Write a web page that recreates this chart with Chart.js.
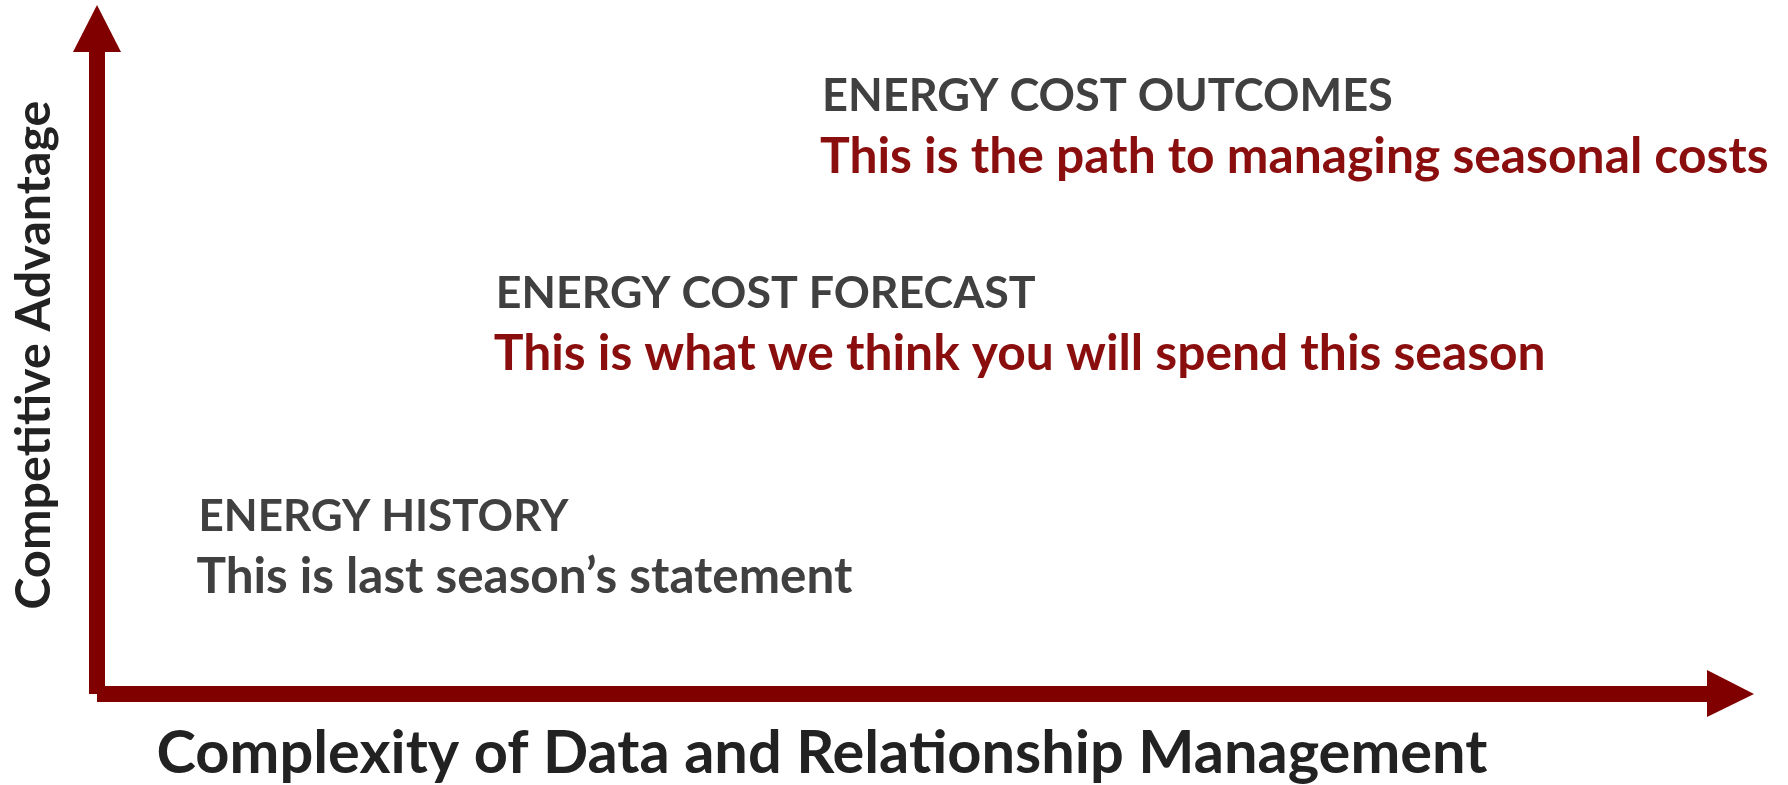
<!DOCTYPE html>
<html>
<head>
<meta charset="utf-8">
<script src="https://cdn.jsdelivr.net/npm/chart.js@4.4.1/dist/chart.umd.min.js"></script>
<style>
  html, body { margin: 0; padding: 0; background: #fff; }
  #wrap { width: 1788px; height: 785px; position: relative; }
</style>
</head>
<body>
<div id="wrap"><canvas id="matrix"></canvas></div>
<script>
// data
const stages = ['ENERGY HISTORY', 'ENERGY COST FORECAST', 'ENERGY COST OUTCOMES'];
const statements = [
    'This is last season\u2019s statement',
    'This is what we think you will spend this season',
    'This is the path to managing seasonal costs'
];
const complexity = [7, 27.5, 50];   // x position of each stage (0-100)
const advantage = [24, 57, 86];     // y position of each stage (0-100)
const xTitle = 'Complexity of Data and Relationship Management';
const yTitle = 'Competitive Advantage';

// styles
const FONT = 'Lato';
const ARROW = '#800000';
const headingColor = '#404040';
const statementColors = ['#404040', '#8b0e0e', '#8b0e0e'];
const headingWidths = [370, 540, 571];
const statementWidths = [656, 1052, 949];

const meas = document.createElement('canvas').getContext('2d');
function fitSize(text, width) {
    meas.font = 'bold 100px ' + FONT;
    return 100 * width / meas.measureText(text).width;
}

const xSize = fitSize(xTitle, 1331);
const ySize = fitSize(yTitle, 509);
const xPadB = Math.max(0, 12 - 0.1775 * xSize);
const xPadT = 83 - xSize - xPadB;
const yPadT = Math.max(0, 50 - 0.3225 * ySize - ySize / 2);
const yPadB = 89 - ySize - yPadT;

const arrows = {
    id: 'arrows',
    beforeDatasetsDraw(chart) {
        const {ctx, chartArea: a, width} = chart;
        ctx.save();
        ctx.fillStyle = ARROW;
        // vertical arrow
        ctx.fillRect(a.left - 8, a.top + 36, 16, a.bottom - a.top - 36);
        ctx.beginPath();
        ctx.moveTo(a.left - 24, a.top + 36);
        ctx.lineTo(a.left, a.top - 11);
        ctx.lineTo(a.left + 24, a.top + 36);
        ctx.closePath();
        ctx.fill();
        // horizontal arrow
        const headBase = width - 81;
        ctx.fillRect(a.left, a.bottom - 8, headBase - a.left, 16);
        ctx.beginPath();
        ctx.moveTo(headBase, a.bottom - 24);
        ctx.lineTo(width - 34, a.bottom);
        ctx.lineTo(headBase, a.bottom + 23);
        ctx.closePath();
        ctx.fill();
        ctx.restore();
    }
};

const labels = {
    id: 'labels',
    afterDatasetsDraw(chart) {
        const {ctx} = chart;
        const meta = chart.getDatasetMeta(0);
        ctx.save();
        ctx.textAlign = 'left';
        ctx.textBaseline = 'alphabetic';
        meta.data.forEach((pt, i) => {
            ctx.fillStyle = headingColor;
            ctx.font = 'bold ' + fitSize(stages[i], headingWidths[i]) + 'px ' + FONT;
            ctx.fillText(stages[i], pt.x, pt.y);
            ctx.fillStyle = statementColors[i];
            ctx.font = 'bold ' + fitSize(statements[i], statementWidths[i]) + 'px ' + FONT;
            ctx.fillText(statements[i], pt.x - 2, pt.y + 62);
        });
        ctx.restore();
    }
};

const chartEl = document.getElementById('matrix');
new Chart(chartEl, {
    type: 'scatter',
    data: {
        datasets: [{
            label: 'Stages',
            data: complexity.map((x, i) => ({x: x, y: advantage[i]})),
            pointRadius: 0,
            pointHoverRadius: 0
        }]
    },
    options: {
        responsive: true,
        maintainAspectRatio: false,
        animation: false,
        layout: { padding: { top: 16, right: 241, bottom: 0, left: 0 } },
        plugins: {
            legend: { display: false },
            tooltip: { enabled: false }
        },
        scales: {
            x: {
                type: 'linear', min: 0, max: 100,
                grid: { display: false },
                border: { display: false },
                ticks: { display: false },
                title: {
                    display: true, text: xTitle, color: '#222222',
                    font: { family: FONT, weight: 'bold', size: xSize, lineHeight: 1 },
                    padding: { top: xPadT, bottom: xPadB }
                }
            },
            y: {
                type: 'linear', min: 0, max: 100,
                grid: { display: false },
                border: { display: false },
                ticks: { display: false },
                title: {
                    display: true, text: yTitle, color: '#222222',
                    font: { family: FONT, weight: 'bold', size: ySize, lineHeight: 1 },
                    padding: { top: yPadT, bottom: yPadB }
                }
            }
        }
    },
    plugins: [arrows, labels]
});
</script>
</body>
</html>
